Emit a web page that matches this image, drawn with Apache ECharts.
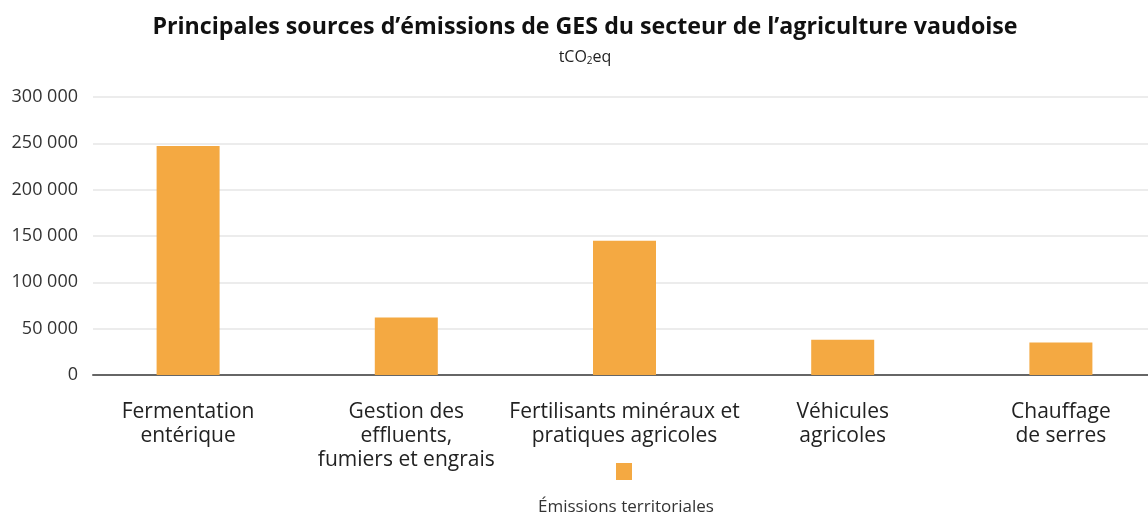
<!DOCTYPE html>
<html><head><meta charset="utf-8">
<script src="https://cdn.jsdelivr.net/npm/echarts@6/dist/echarts.min.js"></script>
<style>html,body{margin:0;padding:0;background:#fff;overflow:hidden}#c{width:1170px;height:513px}</style>
</head><body><div id="c"></div>
<script>
const categories = ['Fermentation\nentérique', 'Gestion des\neffluents,\nfumiers et engrais', 'Fertilisants minéraux et\npratiques agricoles', 'Véhicules\nagricoles', 'Chauffage\nde serres'];
const emissions = [247000, 62000, 145000, 38000, 35000];
const seriesName = 'Émissions territoriales';
const titleText = 'Principales sources d’émissions de GES du secteur de l’agriculture vaudoise';
const yMax = 300000, yStep = 50000;

const FONT = 'Open Sans';
const chart = echarts.init(document.getElementById('c'));
const fmt = v => String(v).replace(/\B(?=(\d{3})+(?!\d))/g, ' ');
chart.setOption({
  animation: false,
  title: [
    {text: titleText, left: 'center', top: 11, textStyle: {fontFamily: FONT, fontWeight: 'bold', fontSize: 23.2, color: '#111'}},
    {text: 'tCO{s|2}eq', left: 'center', top: 43, textStyle: {fontFamily: FONT, fontWeight: 'normal', fontSize: 16, color: '#222',
      rich: {s: {fontFamily: FONT, fontSize: 10, color: '#222', verticalAlign: 'bottom', padding: [8, 0, 0, 0]}}}},
    {text: seriesName, left: 533, top: 494, textStyle: {fontFamily: FONT, fontWeight: 'normal', fontSize: 17, color: '#333'}}
  ],
  legend: {data: [seriesName], left: 611, top: 458, itemWidth: 16, itemHeight: 17, icon: 'rect', formatter: () => '', itemGap: 0},
  grid: [
    {left: 93, right: 0, top: 97, bottom: 138},
    {left: 79, right: 0, top: 97, bottom: 138}
  ],
  xAxis: [
    {type: 'category', gridIndex: 0, data: ['a'], axisLine: {lineStyle: {color: '#666', width: 2}}, axisTick: {show: false}, axisLabel: {show: false}},
    {type: 'category', gridIndex: 1, data: categories, axisLine: {show: false}, axisTick: {show: false},
      axisLabel: {margin: 25, fontFamily: FONT, fontSize: 21, color: '#222', lineHeight: 24, interval: 0}}
  ],
  yAxis: [
    {type: 'value', gridIndex: 0, min: 0, max: yMax, interval: yStep, axisLine: {show: false}, axisTick: {show: false},
      axisLabel: {margin: 15, fontFamily: FONT, fontSize: 18, color: '#333', formatter: fmt},
      splitLine: {lineStyle: {color: '#e6e6e6', width: 1.5}}},
    {type: 'value', gridIndex: 1, min: 0, max: yMax, interval: yStep, show: false, splitLine: {show: false}}
  ],
  series: [{
    name: seriesName, type: 'bar', xAxisIndex: 1, yAxisIndex: 1, data: emissions, barWidth: 63,
    itemStyle: {color: '#F4A942'}
  }]
});
</script></body></html>
